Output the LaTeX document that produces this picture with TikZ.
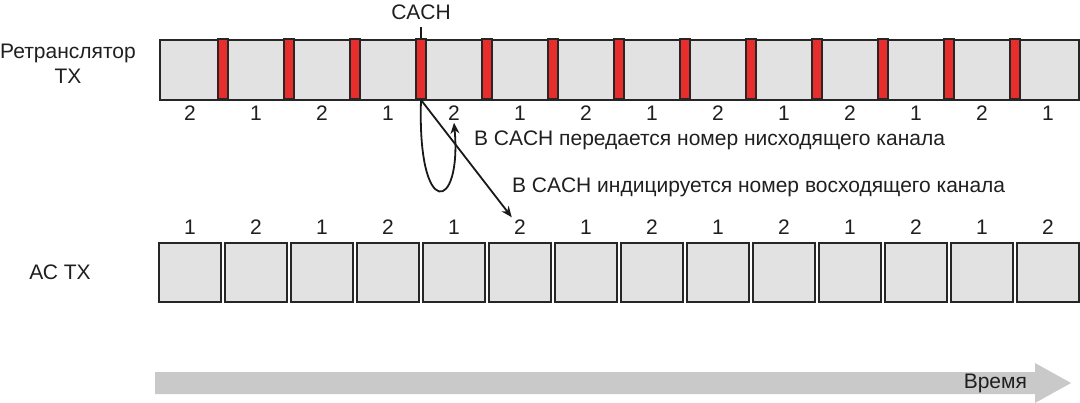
\documentclass[tikz,border=0pt]{standalone}
\usepackage{fontspec}
\setmainfont{Liberation Sans}
\usetikzlibrary{arrows.meta,positioning}
\definecolor{slotgray}{RGB}{226,226,226}
\definecolor{cachred}{RGB}{232,45,45}
\definecolor{edgegray}{RGB}{38,38,38}
\definecolor{timegray}{RGB}{200,201,200}
\tikzset{
  slot/.style={rectangle,draw=edgegray,line width=0.9pt,fill=slotgray,minimum width=31pt,minimum height=29.5pt,inner sep=0pt},
  burst/.style={rectangle,draw=edgegray,line width=0.9pt,fill=cachred,minimum width=4.75pt,minimum height=30pt,inner sep=0pt},
  num/.style={inner sep=1pt},
}

\begin{document}
\begin{tikzpicture}[x=0.5pt,y=-0.5pt,font=\fontsize{10.5}{12.5}\selectfont,text=black!88,
  ar/.style={-{Stealth[length=5.5pt,width=4.5pt]},line width=0.9pt,draw=black!90}]
  \useasboundingbox (0,0) rectangle (1080,402);
  % repeater frame with CACH bursts
  \node[slot,anchor=north west,minimum width=459.5pt,minimum height=30pt] (rep) at (159,39) {};
  \foreach \i in {1,...,13} \node[burst] (c\i) at (157+66*\i,69) {};
  \foreach \k in {1,...,14} \node[num] (t\k) at (124+66*\k,113) {\ifodd\k\relax 2\else 1\fi};
  \node (cachlbl) at (421,12) {CACH};
  \draw[line width=0.8pt,draw=black!90] (c4.north) -- (cachlbl.south);
  \node[align=center] (replbl) at (68,64) {Ретранслятор\\TX};
  % mobile station slots
  \foreach \k in {1,...,14} {
    \node[slot] (s\k) at (124+66*\k,272.5) {};
    \node[num] (b\k) at (124+66*\k,227) {\ifodd\k\relax 1\else 2\fi};
  }
  \node (mslbl) at (60,272) {АС TX};
  % CACH arrows
  \draw[ar] (c4.south) -- (b6.north west);
  \draw[ar] (c4.south) .. controls (417,222) and (462,212) .. (t5.south);
  \node[anchor=west] (dltxt) at (467,140) {В CACH передается номер нисходящего канала};
  \node[anchor=west] (ultxt) at (505,187) {В CACH индицируется номер восходящего канала};
  % time axis
  \fill[timegray] (155,372) -- (1035,372) -- (1035,363) -- (1071,383) -- (1035,403) -- (1035,394) -- (155,394) -- cycle;
  \node[anchor=east] (timelbl) at (1034,383) {Время};
\end{tikzpicture}
\end{document}
